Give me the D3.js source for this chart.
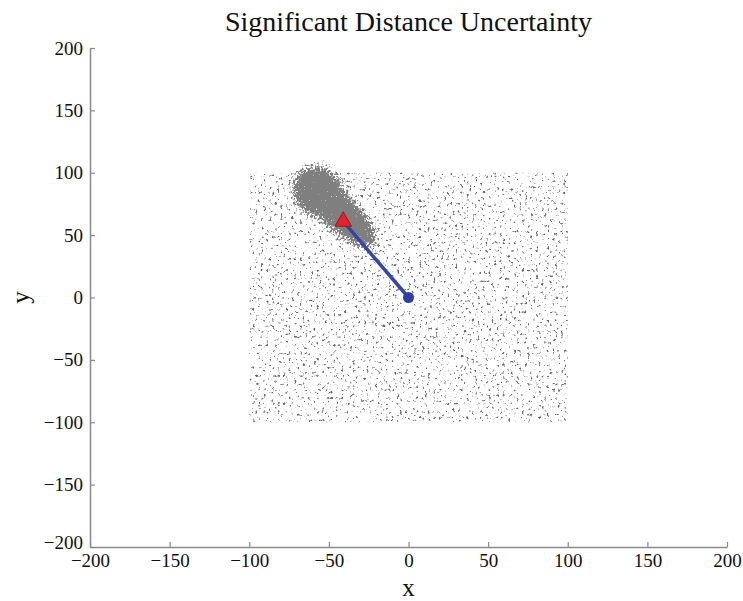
<!DOCTYPE html>
<html>
<head>
<meta charset="utf-8">
<script src="https://cdn.jsdelivr.net/npm/d3@7"></script>
<style>
  body { margin: 0; background: #fff; }
  svg { display: block; font-family: "Liberation Serif", "Times New Roman", serif; }
</style>
</head>
<body>
<div id="chart"></div>
<script>
// values
const xTicks = [-200, -150, -100, -50, 0, 50, 100, 150, 200];
const yTicks = [-200, -150, -100, -50, 0, 50, 100, 150, 200];
const xDomain = [-200, 200];
const yDomain = [-200, 200];
const uniformX = [-100, 100];          // spread of the background samples
const uniformY = [-100, 100];
// dense cloud, as overlapping lobes: long axis ends and half width (x units)
const clusterAxes = [[[-70, 101], [-20, 40]], [[-70, 100], [-44, 70]]];
const clusterHalfWidths = [12, 16];
const origin = [0, 0];
const estimate = [-41, 61];

const width = 743, height = 601;
const margins = {left: 90, top: 48, right: 16, bottom: 54};

const svg = d3.select("#chart").append("svg")
    .attr("width", width)
    .attr("height", height);

const x = d3.scaleLinear().domain(xDomain).range([margins.left, width - margins.right]);
const y = d3.scaleLinear().domain(yDomain).range([height - margins.bottom, margins.top]);

const defs = svg.append("defs");

// speckle texture for the uniform samples
const fBg = defs.append("filter").attr("id", "speckle")
    .attr("color-interpolation-filters", "sRGB")
    .attr("x", 0).attr("y", 0).attr("width", 1).attr("height", 1);
fBg.append("feTurbulence").attr("type", "fractalNoise")
    .attr("baseFrequency", 0.36).attr("numOctaves", 2).attr("seed", 4).attr("result", "turb");
fBg.append("feColorMatrix").attr("in", "turb").attr("type", "matrix")
    .attr("values", "0 0 0 0 0.42  0 0 0 0 0.42  0 0 0 0 0.42  7 0 0 0 -4.3")
    .attr("result", "dots");
fBg.append("feGaussianBlur").attr("in", "dots").attr("stdDeviation", 0.45).attr("result", "soft");
fBg.append("feComposite").attr("in", "soft").attr("in2", "SourceAlpha").attr("operator", "in");

// dense cloud: blurred shape + noise, thresholded
const fCl = defs.append("filter").attr("id", "cloud")
    .attr("color-interpolation-filters", "sRGB")
    .attr("x", "-50%").attr("y", "-50%").attr("width", "200%").attr("height", "200%");
fCl.append("feGaussianBlur").attr("in", "SourceAlpha").attr("stdDeviation", 7).attr("result", "blur");
fCl.append("feTurbulence").attr("type", "fractalNoise")
    .attr("baseFrequency", 0.45).attr("numOctaves", 2).attr("seed", 9).attr("result", "turb");
fCl.append("feColorMatrix").attr("in", "turb").attr("type", "matrix")
    .attr("values", "0 0 0 0 0  0 0 0 0 0  0 0 0 0 0  1 0 0 0 0").attr("result", "na");
fCl.append("feComposite").attr("in", "blur").attr("in2", "na").attr("operator", "arithmetic")
    .attr("k1", 0).attr("k2", 1).attr("k3", 1.3).attr("k4", -0.7).attr("result", "sum");
const ct = fCl.append("feComponentTransfer").attr("in", "sum").attr("result", "mask");
ct.append("feFuncA").attr("type", "linear").attr("slope", 5).attr("intercept", -2.1);
fCl.append("feFlood").attr("flood-color", "#7f7f7f").attr("result", "col");
fCl.append("feComposite").attr("in", "col").attr("in2", "mask").attr("operator", "in");

// background samples
svg.append("rect")
    .attr("class", "uniform")
    .attr("x", x(uniformX[0]))
    .attr("y", y(uniformY[1]))
    .attr("width", x(uniformX[1]) - x(uniformX[0]))
    .attr("height", y(uniformY[0]) - y(uniformY[1]))
    .attr("fill", "#000")
    .attr("filter", "url(#speckle)");

// dense cloud
const cloud = svg.append("g").attr("filter", "url(#cloud)");
clusterAxes.forEach((axis, i) => {
    const p0 = [x(axis[0][0]), y(axis[0][1])];
    const p1 = [x(axis[1][0]), y(axis[1][1])];
    const cx = (p0[0] + p1[0]) / 2, cy = (p0[1] + p1[1]) / 2;
    const ang = Math.atan2(p1[1] - p0[1], p1[0] - p0[0]) * 180 / Math.PI;
    cloud.append("ellipse")
        .attr("cx", cx).attr("cy", cy)
        .attr("rx", Math.hypot(p1[0] - p0[0], p1[1] - p0[1]) / 2)
        .attr("ry", x(clusterHalfWidths[i]) - x(0))
        .attr("transform", `rotate(${ang},${cx},${cy})`)
        .attr("fill", "#000");
});

// axes
const xAxis = d3.axisBottom(x).tickValues(xTicks).tickSizeInner(-5).tickSizeOuter(0).tickPadding(7);
const yAxis = d3.axisLeft(y).tickValues(yTicks).tickSizeInner(-5).tickSizeOuter(0).tickPadding(7);

const gx = svg.append("g")
    .attr("transform", `translate(0,${height - margins.bottom})`)
    .call(xAxis);
const gy = svg.append("g")
    .attr("transform", `translate(${margins.left},0)`)
    .call(yAxis);

[gx, gy].forEach(g => {
    g.select(".domain").attr("stroke", "#8a8a8a").attr("stroke-width", 1.5);
    g.selectAll(".tick line").attr("stroke", "#8a8a8a").attr("stroke-width", 1.2);
    g.selectAll(".tick text").attr("fill", "#111").style("font-size", "19px")
        .style("font-family", "'Liberation Serif', serif");
});
// lowest y label sits a little higher so it clears the x labels
gy.selectAll(".tick text").filter(d => d === yDomain[0]).attr("dy", "0.1em");

// line from origin to estimate
svg.append("line")
    .attr("x1", x(origin[0])).attr("y1", y(origin[1]))
    .attr("x2", x(estimate[0])).attr("y2", y(estimate[1]))
    .attr("stroke", "#3546a6").attr("stroke-width", 3.5);

svg.append("circle")
    .attr("cx", x(origin[0])).attr("cy", y(origin[1]))
    .attr("r", 5.5)
    .attr("fill", "#2f40a3");

svg.append("path")
    .attr("d", d3.symbol(d3.symbolTriangle, 120)())
    .attr("transform", `translate(${x(estimate[0])},${y(estimate[1])})`)
    .attr("fill", "#e0242a")
    .attr("stroke", "#9c1a1e")
    .attr("stroke-width", 1);

// labels
svg.append("text")
    .attr("x", x(0)).attr("y", 31)
    .attr("text-anchor", "middle")
    .style("font-size", "28px")
    .attr("fill", "#111")
    .text("Significant Distance Uncertainty");

svg.append("text")
    .attr("x", x(0)).attr("y", 596)
    .attr("text-anchor", "middle")
    .style("font-size", "25px")
    .attr("fill", "#111")
    .text("x");

svg.append("text")
    .attr("transform", `translate(29,${y(0)}) rotate(-90)`)
    .attr("text-anchor", "middle")
    .style("font-size", "25px")
    .attr("fill", "#111")
    .text("y");
</script>
</body>
</html>
